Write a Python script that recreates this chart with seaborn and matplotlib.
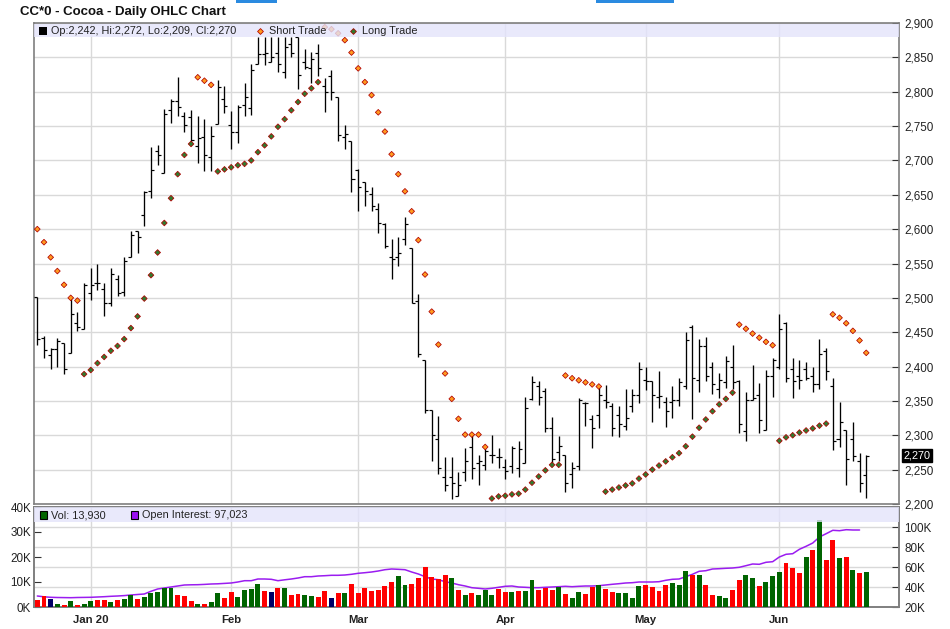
import matplotlib
matplotlib.use("Agg")
import matplotlib.pyplot as plt
from matplotlib.patches import Rectangle
import numpy as np
import pandas as pd
import seaborn as sns

W, H = 950, 629

open_vals = [2501,2441,2417,2425,2434,2420,2464,2455,2507,2522,
             2513,2493,2527,2509,2560,2598,2620,2656,2714,2682,
             2774,2786,2764,2763,2721,2734,2705,2753,2790,2751,
             2741,2780,2776,2841,2855,2843,2857,2828,2869,2880,
             2843,2835,2856,2808,2823,2793,2734,2728,2686,2668,
             2651,2630,2608,2560,2560,2586,2573,2496,2410,2337,
             2295,2240,2240,2211,2246,2283,2260,2257,2272,2269,
             2254,2256,2253,2260,2353,2372,2365,2311,2276,2272,
             2244,2256,2347,2324,2330,2352,2343,2330,2314,2343,
             2359,2381,2379,2356,2349,2349,2352,2371,2458,2381,
             2430,2400,2368,2377,2400,2379,2306,2352,2358,2307,
             2387,2400,2464,2396,2387,2397,2387,2374,2422,2371,
             2295,2308,2294,2262,2242]
high_vals = [2501,2444,2427,2441,2434,2500,2480,2522,2544,2549,
             2522,2543,2533,2559,2597,2598,2656,2720,2723,2775,
             2790,2822,2770,2774,2765,2760,2750,2817,2809,2772,
             2780,2812,2841,2880,2880,2880,2880,2880,2880,2880,
             2862,2858,2869,2820,2831,2793,2751,2728,2687,2668,
             2662,2638,2609,2586,2589,2618,2573,2505,2410,2337,
             2328,2269,2269,2246,2281,2301,2272,2283,2301,2282,
             2265,2285,2291,2356,2387,2379,2369,2326,2299,2272,
             2261,2354,2349,2330,2372,2373,2347,2342,2367,2367,
             2407,2400,2379,2394,2356,2371,2384,2451,2461,2440,
             2443,2406,2391,2416,2432,2381,2363,2402,2376,2395,
             2413,2476,2465,2413,2410,2407,2400,2440,2427,2384,
             2348,2308,2320,2274,2272]
low_vals = [2431,2412,2396,2400,2389,2420,2452,2455,2497,2511,
            2474,2488,2502,2502,2560,2565,2605,2645,2693,2682,
            2754,2764,2741,2725,2696,2684,2684,2753,2769,2716,
            2725,2765,2766,2841,2839,2843,2828,2820,2850,2804,
            2833,2813,2823,2770,2788,2728,2717,2654,2626,2634,
            2626,2594,2572,2528,2547,2577,2492,2414,2333,2263,
            2244,2219,2207,2211,2233,2236,2228,2249,2260,2252,
            2236,2245,2239,2260,2352,2344,2305,2259,2262,2217,
            2223,2249,2314,2281,2311,2340,2299,2297,2308,2334,
            2347,2366,2319,2340,2312,2325,2343,2368,2324,2363,
            2379,2360,2354,2369,2367,2303,2292,2352,2304,2307,
            2356,2397,2378,2354,2367,2380,2363,2367,2380,2279,
            2283,2227,2263,2218,2209]
close_vals = [2440,2424,2425,2437,2396,2477,2457,2519,2519,2522,
              2493,2534,2507,2553,2592,2589,2654,2686,2708,2768,
              2786,2778,2751,2730,2733,2708,2736,2807,2779,2741,
              2778,2793,2831,2855,2857,2850,2840,2865,2857,2824,
              2836,2847,2834,2800,2800,2737,2739,2673,2662,2655,
              2634,2609,2576,2557,2566,2608,2493,2419,2337,2300,
              2252,2228,2231,2228,2263,2253,2262,2277,2272,2269,
              2248,2282,2280,2339,2377,2356,2311,2266,2285,2231,
              2252,2352,2347,2311,2359,2349,2311,2317,2325,2359,
              2396,2379,2359,2357,2336,2352,2377,2439,2384,2430,
              2387,2375,2380,2408,2377,2316,2352,2354,2322,2387,
              2409,2455,2383,2379,2381,2383,2374,2419,2394,2292,
              2320,2266,2270,2231,2270]

trade_stop = [2600,2581,2559,2539,2519,2500,2496,2389,2395,2405,
              2414,2423,2430,2440,2456,2473,2499,2533,2566,2609,
              2645,2680,2708,2724,2821,2816,2810,2684,2687,2690,
              2693,2695,2700,2712,2722,2735,2749,2760,2773,2785,
              2797,2805,2814,2894,2891,2885,2875,2857,2834,2814,
              2795,2770,2742,2709,2680,2655,2626,2584,2534,2480,
              2432,2390,2353,2324,2301,2301,2301,2283,2208,2211,
              2212,2214,2215,2221,2231,2240,2249,2257,2257,2387,
              2383,2380,2377,2374,2371,2218,2221,2224,2227,2230,
              2237,2243,2250,2256,2262,2268,2274,2284,2298,2311,
              2323,2335,2345,2353,2362,2461,2455,2448,2442,2436,
              2431,2292,2297,2300,2304,2307,2310,2314,2317,2476,
              2471,2463,2452,2438,2420]
trade_side = list("S"*7 + "L"*17 + "S"*3 + "L"*16 + "S"*25 + "L"*11 + "S"*6 + "L"*20 + "S"*6 + "L"*8 + "S"*6)

volume_k = [2.9,4.5,3.3,1.3,0.9,2.5,0.9,1.3,2.5,2.9,
            2.9,2.1,2.9,3.3,4.9,3.3,4.1,5.7,6.1,7.7,
            7.7,4.9,4.5,2.5,1.3,1.3,2.1,5.7,3.7,6.1,
            4.1,6.9,7.3,9.3,6.5,6.1,7.7,7.7,4.9,5.3,
            4.9,4.5,4.1,6.5,3.7,5.7,5.7,9.3,5.7,7.7,
            6.5,6.9,8.5,10.1,12.5,8.9,9.3,11.7,16.1,12.1,
            11.3,12.9,11.7,6.9,4.9,5.7,4.9,6.9,4.9,7.3,
            6.1,6.1,6.5,6.5,10.9,6.9,7.7,6.9,8.1,5.3,
            3.7,6.1,5.3,8.1,8.9,7.3,6.1,5.7,5.7,3.7,
            8.5,8.9,8.1,6.5,8.9,9.7,8.9,14.5,12.9,12.9,
            8.9,4.9,4.5,3.7,6.9,10.9,12.9,11.7,8.5,10.1,
            12.5,14.1,17.7,15.7,13.7,20.1,22.9,34.8,18.9,26.9,
            19.7,20.1,14.9,13.7,13.93]
volume_dir = list("RRNGRGRGGR" "RGRGGRGGGG" "GRRRGRGGRR" "GGGGRNRGRR"
                  "GGRRNRGRRR" "RRRRGGRRRR" "RRGRGRGGGR" "RGRGGRRRGR"
                  "GGRRGRRGGG" "GRRRRGGGRG" "RRGGRRGGRG" "GGRRRGRGRR"
                  "GRGRG")
open_interest_k = [31,30.2,29.7,29.5,29.4,29.3,29.5,29.6,29.7,30,
                   30.3,30.7,31,31.4,32,32.5,33,35.7,38,39,
                   40,41,42,42.2,42.3,42.6,43,43.2,43.6,44,
                   45,46.3,46.3,48,48,47.7,46.3,47.2,48,49,
                   50.3,50.3,51,51.3,51.7,51.7,52,52.7,53.7,54.3,
                   55,56,57.3,58,57.7,57.3,55,53,50.3,48,
                   47.3,45.3,44,42.3,41,39.3,38.7,38,38.7,39.7,
                   40.7,41,40,39.7,39.3,39.3,39.7,40,40.3,40.7,
                   40.3,40.7,41,41,41.3,42,42.7,43.3,44,44.3,
                   45,45,45,45.3,46.7,47.7,48,50.3,52.7,55.7,
                   56.3,58,58.3,58.7,59,59.7,61.3,63,62.7,64.7,
                   65.3,70,72.7,73.3,77.7,80.7,84,90,93.3,96.7,
                   96.3,97.3,97,97]

month_labels = ["Jan 20", "Feb", "Mar", "Apr", "May", "Jun"]
month_bars = [8, 29, 48, 70, 91, 111]
price_ticks = list(range(2200, 2901, 50))
volume_ticks = [0, 10, 20, 30, 40]
oi_ticks = [20, 40, 60, 80, 100]

quotes = pd.DataFrame({"bar": np.arange(len(open_vals)), "open": open_vals, "high": high_vals,
                       "low": low_vals, "close": close_vals, "stop": trade_stop, "side": trade_side})
vols = pd.DataFrame({"bar": np.arange(len(volume_k)), "vol": volume_k, "dir": volume_dir})
oi = pd.DataFrame({"bar": np.arange(len(open_interest_k)), "oi": open_interest_k})

sns.set_theme(style="white")
plt.rcParams["font.family"] = ["Liberation Sans", "DejaVu Sans"]

GRID = "#d9d9d9"
SPINE = "#7f7f7f"
BAND = "#e4e4fb"
TEXT = "#222222"
FS = 7.8
TICK_FS = 8.4

def px_axes(left, top, right, bottom):
    return [left / W, 1 - bottom / H, (right - left) / W, (bottom - top) / H]

def fig_text(x, y, s, **kw):
    kw.setdefault("fontsize", FS)
    kw.setdefault("color", TEXT)
    kw.setdefault("va", "center")
    return fig.text(x / W, 1 - y / H, s, zorder=30, **kw)

def fig_rect(x0, y0, x1, y1, **kw):
    fig.add_artist(Rectangle((x0 / W, 1 - y1 / H), (x1 - x0) / W, (y1 - y0) / H,
                             transform=fig.transFigure, zorder=29, **kw))

fig = plt.figure(figsize=(W / 100, H / 100), dpi=100, facecolor="white")
ax = fig.add_axes(px_axes(34, 23, 899, 504))
ax_oi = fig.add_axes(px_axes(34, 507, 899, 607))
ax_vol = ax_oi.twinx()
xlim = (-0.494, 128.9)

# price panel
for a in (ax, ax_oi):
    a.set_axisbelow(True)
    a.grid(True, color=GRID, linewidth=1.0)
ax.vlines(quotes["bar"], quotes["low"], quotes["high"], color="black", linewidth=0.95, zorder=3)
ax.hlines(quotes["open"], quotes["bar"] - 0.45, quotes["bar"], color="black", linewidth=0.85, zorder=3)
ax.hlines(quotes["close"], quotes["bar"], quotes["bar"] + 0.45, color="black", linewidth=0.85, zorder=3)
sns.scatterplot(data=quotes, x="bar", y="stop", hue="side", hue_order=["S", "L"],
                palette={"S": "#ff9a1f", "L": "#2f7a2f"}, marker="D", s=8.5,
                edgecolor="#b00000", linewidth=0.55, legend=False, ax=ax, zorder=4)
ax.set_xlim(xlim)
ax.set_ylim(2200, 2900)
ax.set_xticks(month_bars)
ax.set_xticklabels([])
ax.set_yticks(price_ticks)
ax.set_yticklabels([f"{v:,}" for v in price_ticks])
ax.yaxis.tick_right()
ax.tick_params(axis="x", length=0)
ax.tick_params(axis="y", direction="in", length=5, width=0.8, color="#333333",
               labelsize=TICK_FS, labelcolor=TEXT, pad=4)
ax.set_xlabel("")
ax.set_ylabel("")
ax.add_patch(Rectangle((0, 1 - 14 / 481), 1, 13 / 481, transform=ax.transAxes,
                       facecolor=BAND, edgecolor="none", alpha=0.8, zorder=6))

# volume panel
sns.lineplot(data=oi, x="bar", y="oi", color="#9a1cf0", linewidth=1.1, ax=ax_oi, zorder=3)
ax_oi.set_xlim(xlim)
ax_oi.set_ylim(20, 120)
ax_oi.set_xticks(month_bars)
ax_oi.set_xticklabels(month_labels, fontweight="bold")
ax_oi.set_yticks(oi_ticks)
ax_oi.set_yticklabels([f"{v}K" for v in oi_ticks])
ax_oi.yaxis.tick_right()
ax_oi.tick_params(axis="x", direction="out", length=3, width=0.8, color="#333333",
                  labelsize=8.2, labelcolor=TEXT, pad=3)
ax_oi.tick_params(axis="y", direction="in", length=5, width=0.8, color="#333333",
                  labelsize=TICK_FS, labelcolor=TEXT, pad=4)
ax_oi.set_xlabel("")
ax_oi.set_ylabel("")

sns.barplot(data=vols, x="bar", y="vol", hue="dir", native_scale=True, dodge=False,
            palette={"R": "#ff0000", "G": "#006400", "N": "#000066"}, width=0.74,
            saturation=1, legend=False, edgecolor="none", linewidth=0, ax=ax_vol, zorder=4)
ax_vol.patch.set_visible(False)
ax_vol.set_zorder(ax_oi.get_zorder() + 1)
ax_vol.set_xlim(xlim)
ax_vol.set_ylim(0, 40)
ax_vol.set_yticks(volume_ticks)
ax_vol.set_yticklabels([f"{v}K" for v in volume_ticks])
ax_vol.yaxis.tick_left()
ax_vol.grid(False)
ax_vol.tick_params(axis="y", direction="in", length=5, width=0.8, color="#333333",
                   labelsize=TICK_FS, labelcolor=TEXT, pad=2, labelleft=True, labelright=False)
ax_vol.tick_params(axis="x", length=0, labelbottom=False)
ax_vol.set_xlabel("")
ax_vol.set_ylabel("")
ax_vol.add_patch(Rectangle((0, 0.85), 1, 0.15, transform=ax_vol.transAxes,
                           facecolor=BAND, edgecolor="none", alpha=0.8, zorder=6))

for a in (ax, ax_oi, ax_vol):
    for s in a.spines.values():
        s.set_color(SPINE)
        s.set_linewidth(1.2)
        s.set_visible(True)

# last-price box
ax.text(1.0055, close_vals[-1], f"{close_vals[-1]:,}", transform=ax.get_yaxis_transform(),
        color="white", fontsize=FS, va="center", ha="left", zorder=20, clip_on=False,
        bbox=dict(facecolor="black", edgecolor="black", pad=1.0))

# header and in-panel legends
fig_text(20, 12, "CC*0 - Cocoa - Daily OHLC Chart", fontsize=9.5, fontweight="bold", color="#111111")
fig_rect(236, 0, 277, 2.5, facecolor="#2a8ae0", edgecolor="none")
fig_rect(596, 0, 674, 2.5, facecolor="#2a8ae0", edgecolor="none")
fig_rect(39, 27, 47, 35, facecolor="black", edgecolor="none")
fig_text(51, 31, f"Op:{open_vals[-1]:,}, Hi:{high_vals[-1]:,}, Lo:{low_vals[-1]:,}, Cl:{close_vals[-1]:,}")
fig.add_artist(plt.Line2D([260 / W], [1 - 31 / H], marker="D", markersize=3.0, markerfacecolor="#ff9a1f",
                          markeredgecolor="#b00000", markeredgewidth=0.55, transform=fig.transFigure, zorder=29))
fig_text(269, 31, "Short Trade")
fig.add_artist(plt.Line2D([353 / W], [1 - 31 / H], marker="D", markersize=3.0, markerfacecolor="#2f7a2f",
                          markeredgecolor="#b00000", markeredgewidth=0.55, transform=fig.transFigure, zorder=29))
fig_text(362, 31, "Long Trade")
fig_rect(39.5, 511, 46.5, 518.5, facecolor="#006400", edgecolor="black", linewidth=0.8)
fig_text(51, 515, f"Vol: {volume_k[-1] * 1000:,.0f}")
fig_rect(130.5, 511, 137.5, 518.5, facecolor="#9a10f0", edgecolor="black", linewidth=0.8)
fig_text(142, 515, "Open Interest: 97,023")

fig.savefig("out.png", dpi=100)
